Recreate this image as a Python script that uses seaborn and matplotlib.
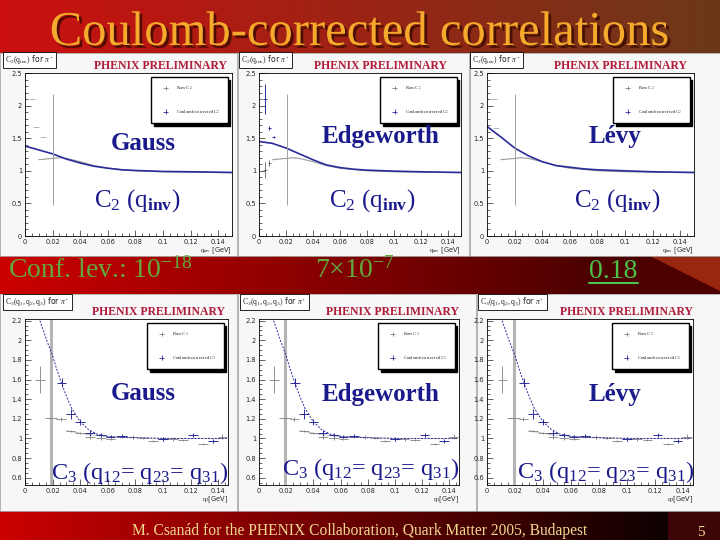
import numpy as np
import matplotlib
matplotlib.use("Agg")
import matplotlib.pyplot as plt
import matplotlib.patheffects as pe
from matplotlib.patches import Rectangle
from matplotlib.ticker import MultipleLocator, FuncFormatter
import seaborn as sns

# ---- top row: C2(q_inv) ----
fit_q = [0.0, 0.01, 0.02, 0.03, 0.04, 0.05, 0.06, 0.07, 0.08, 0.10, 0.12, 0.15]
gauss_c2_fit = [1.38, 1.32, 1.26, 1.18, 1.12, 1.07, 1.04, 1.015, 1.005, 0.99, 0.985, 0.975]
edge_c2_fit = [1.45, 1.42, 1.35, 1.26, 1.17, 1.09, 1.05, 1.025, 1.01, 0.995, 0.985, 0.975]
levy_c2_fit = [1.68, 1.52, 1.35, 1.23, 1.14, 1.08, 1.055, 1.03, 1.015, 1.0, 0.985, 0.975]

raw_c2_q = [0.010, 0.015, 0.020, 0.025, 0.030, 0.040, 0.050, 0.060, 0.080, 0.100, 0.150]
raw_c2 = [1.17, 1.18, 1.19, 1.20, 1.19, 1.14, 1.08, 1.04, 1.00, 0.985, 0.97]

# low-q points (differ per panel)
gauss_low_q = [0.005, 0.008, 0.013]
gauss_low_c = [2.10, 1.67, 1.52]
edge_corr_q = [0.0045, 0.0077, 0.011]
edge_corr_c = [2.10, 1.66, 1.52]
edge_corr_err = [0.23, 0.03, 0.02]
edge_raw_q = [0.0045, 0.0077]
edge_raw_c = [1.01, 1.12]
edge_raw_err = [0.12, 0.04]
levy_low_q = [0.005, 0.0065]
levy_low_c = [2.10, 1.66]

# the wide raw bin near 0.02
wide_c2_q = [0.0205]
wide_c2 = [1.33]
wide_c2_err = [0.85]

# ---- bottom row: C3(q12=q23=q31), same data in all three panels ----
c3_raw_q = [0.011, 0.026, 0.033, 0.040, 0.047, 0.055, 0.062, 0.070, 0.078, 0.0855,
            0.0928, 0.100, 0.107, 0.1145, 0.129, 0.143]
c3_raw = [1.60, 1.20, 1.075, 1.06, 1.01, 1.00, 0.99, 1.01, 1.018, 1.008,
          0.974, 0.995, 0.995, 0.984, 0.944, 1.02]
c3_raw_err = [0.14, 0.02, 0.01, 0.01, 0.015, 0.015, 0.01, 0.01, 0.02, 0.01,
              0.01, 0.02, 0.02, 0.01, 0.01, 0.03]
c3_corr_q = [0.0265, 0.033, 0.040, 0.047, 0.055, 0.062, 0.070, 0.100, 0.1217, 0.136]
c3_corr = [1.57, 1.25, 1.17, 1.06, 1.035, 1.02, 1.03, 0.995, 1.035, 0.975]
c3_corr_err = [0.05, 0.05, 0.03, 0.03, 0.02, 0.015, 0.02, 0.02, 0.02, 0.02]
c3_wide_q = [0.019]
c3_wide = [1.21]
c3_fit_q = [0.0108, 0.0157, 0.0198, 0.0229, 0.026, 0.030, 0.0337, 0.040, 0.046,
            0.052, 0.061, 0.078, 0.102, 0.146]
c3_fit = [2.20, 2.00, 1.85, 1.71, 1.58, 1.43, 1.31, 1.17, 1.09, 1.045, 1.018,
          1.008, 1.0, 1.0]
c3_raw_fit_q = [0.030, 0.045, 0.060, 0.080, 0.100, 0.146]
c3_raw_fit = [1.08, 1.04, 1.02, 1.01, 1.0, 1.0]

models = ["Gauss", "Edgeworth", "Lévy"]
conf_levels = ["Conf. lev.: 10$^{\\mathrm{-18}}$", "7×10$^{\\mathrm{-7}}$", "0.18"]

BLUE = "#2b2b9c"
GREY = "#808080"
NAVY = "#1a1a8c"
CRIMSON = "#b01c3c"

sns.set_style("ticks")
plt.rcParams["font.family"] = ["Liberation Serif", "DejaVu Serif"]
plt.rcParams["mathtext.fontset"] = "custom"
plt.rcParams["mathtext.rm"] = "Liberation Serif"
plt.rcParams["mathtext.it"] = "Liberation Serif:italic"
plt.rcParams["mathtext.bf"] = "Liberation Serif:bold"

fig = plt.figure(figsize=(7.2, 5.4), dpi=100)

# slide background
H, W = 540, 720
t = np.linspace(0, 1, W)[:, None]
bg = np.ones((H, W, 3)) * 0.97
title_row = (1 - t) * np.array([0.80, 0.06, 0.06]) + t * np.array([0.42, 0.22, 0.10])
bg[:53] = title_row[None]
mid = np.clip(t / 0.82, 0, 1)
mid_row = (1 - mid) * np.array([0.80, 0.0, 0.0]) + mid * np.array([0.30, 0.0, 0.0])
bg[256:294] = mid_row[None]
yy, xx = np.mgrid[256:294, 0:W]
wedge = xx > 650 + (yy - 256) * 2.0
bg[256:294][wedge] = [0.60, 0.15, 0.06]
foot = np.clip(t / 0.92, 0, 1)
foot_row = (1 - foot) * np.array([0.80, 0.0, 0.0]) + foot * np.array([0.06, 0.0, 0.0])
bg[511:] = foot_row[None]
bg[511:, 668:] = [0.24, 0.02, 0.03]

bgax = fig.add_axes([0, 0, 1, 1])
bgax.imshow(bg, extent=(0, W, H, 0), aspect="auto", interpolation="bilinear")
bgax.set_xlim(0, W)
bgax.set_ylim(H, 0)
bgax.axis("off")
for x0, x1 in [(0, 237), (238, 469), (470, 720)]:
    bgax.add_patch(Rectangle((x0, 53), x1 - x0, 203, fc="#f7f7f7", ec="#999999", lw=0.5))
for x0, x1 in [(0, 237), (238, 476), (477, 720)]:
    bgax.add_patch(Rectangle((x0, 294), x1 - x0, 217, fc="#f7f7f7", ec="#999999", lw=0.5))


def px_axes(l, tp, r, b):
    return fig.add_axes([l / W, 1 - b / H, (r - l) / W, (b - tp) / H])


fmt = FuncFormatter(lambda v, p: f"{v:g}")


def style_axes(ax, xmax, ylo, yhi, ymaj, ymin):
    ax.set_xlim(0, xmax)
    ax.set_ylim(ylo, yhi)
    ax.set_facecolor("white")
    ax.xaxis.set_major_locator(MultipleLocator(0.02))
    ax.xaxis.set_minor_locator(MultipleLocator(0.005))
    ax.yaxis.set_major_locator(MultipleLocator(ymaj))
    ax.yaxis.set_minor_locator(MultipleLocator(ymin))
    ax.xaxis.set_major_formatter(fmt)
    ax.yaxis.set_major_formatter(fmt)
    ax.tick_params(which="both", direction="in", labelsize=4.8, pad=2, width=0.5,
                   labelfontfamily="DejaVu Sans")
    ax.tick_params(which="major", length=4)
    ax.tick_params(which="minor", length=2)
    for s in ax.spines.values():
        s.set_linewidth(0.6)
        s.set_color("black")


def add_legend(ax, sub):
    # legend keys drawn as the ROOT-style error crosses
    h_raw = ax.errorbar([], [], yerr=[], xerr=[], fmt="none", ecolor=GREY, elinewidth=0.6)
    h_cor = ax.errorbar([], [], yerr=[], xerr=[], fmt="none", ecolor=BLUE, elinewidth=0.6)
    ax.legend([h_raw, h_cor], [f"Raw C$_{sub}$", f"Coulomb corrected C$_{sub}$"],
              loc="upper right", bbox_to_anchor=(0.99, 0.99), fontsize=3.4,
              frameon=True, fancybox=False, edgecolor="black", framealpha=1,
              shadow={"color": "black", "alpha": 1}, borderpad=1.6,
              labelspacing=3.4, handlelength=3, handletextpad=0.6)


top_px = [(25, 73, 232, 236), (259, 73, 461, 236), (487, 73, 694, 236)]
bot_px = [(25, 319, 228, 485), (259, 319, 459, 485), (487, 319, 693, 485)]
top_fits = [gauss_c2_fit, edge_c2_fit, levy_c2_fit]

for i, box in enumerate(top_px):
    ax = px_axes(*box)
    style_axes(ax, 0.15, 0, 2.5, 0.5, 0.1)
    sns.lineplot(x=raw_c2_q, y=raw_c2, ax=ax, color="#9a9a9a", lw=0.8, legend=False)
    sns.lineplot(x=fit_q, y=top_fits[i], ax=ax, color=BLUE, lw=1.2, legend=False)
    ax.errorbar(wide_c2_q, wide_c2, yerr=wide_c2_err, fmt="none",
                ecolor="#a0a0a0", elinewidth=0.7)
    if i == 0:
        ax.errorbar(gauss_low_q, gauss_low_c, xerr=0.002, fmt="none",
                    ecolor="#a8a8b8", elinewidth=0.6)
    elif i == 1:
        ax.errorbar(edge_raw_q, edge_raw_c, yerr=edge_raw_err, xerr=0.0012, fmt="none",
                    ecolor="#606060", elinewidth=0.6)
        ax.errorbar(edge_corr_q, edge_corr_c, yerr=edge_corr_err, xerr=0.0012,
                    fmt="none", ecolor=BLUE, elinewidth=0.7)
    else:
        ax.errorbar(levy_low_q, levy_low_c, xerr=0.002, fmt="none",
                    ecolor="#a8a8b8", elinewidth=0.6)
    add_legend(ax, "2")
    ax.set_xlabel(r"$\mathrm{q}_{\mathrm{inv}}$ [GeV]", fontsize=4.8, loc="right",
                  labelpad=0.5, fontfamily="DejaVu Sans")

for i, box in enumerate(bot_px):
    ax = px_axes(*box)
    style_axes(ax, 0.147, 0.526, 2.217, 0.2, 0.05)
    ax.errorbar(c3_wide_q, [1.5], yerr=[1.2], fmt="none", ecolor="#b4b4b4", elinewidth=2.2)
    ax.errorbar(c3_wide_q, c3_wide, xerr=0.0045, fmt="none", ecolor=GREY, elinewidth=0.6)
    sns.lineplot(x=c3_raw_fit_q, y=c3_raw_fit, ax=ax, color="#b8b8b8", lw=0.6, legend=False)
    ax.errorbar(c3_raw_q, c3_raw, yerr=c3_raw_err, xerr=0.0035, fmt="none",
                ecolor=GREY, elinewidth=0.6)
    ax.errorbar(c3_corr_q, c3_corr, yerr=c3_corr_err, xerr=0.0035, fmt="none",
                ecolor=BLUE, elinewidth=0.7)
    sns.lineplot(x=c3_fit_q, y=c3_fit, ax=ax, color=BLUE, lw=0.7, legend=False,
                 linestyle=(0, (2, 1.5)))
    add_legend(ax, "3")
    ax.set_xlabel(r"$\mathrm{q}_3$[GeV]", fontsize=4.8, loc="right", labelpad=0.5,
                  fontfamily="DejaVu Sans")

# overlay for all slide text, in pixel coordinates
ov = fig.add_axes([0, 0, 1, 1], zorder=10)
ov.set_xlim(0, W)
ov.set_ylim(H, 0)
ov.axis("off")
ov.patch.set_alpha(0)

ov.text(360, 45, "Coulomb-corrected correlations", ha="center", va="baseline",
        fontsize=35, color="#f5aa2c",
        path_effects=[pe.withSimplePatchShadow(offset=(2, -2), shadow_rgbFace="#3a0a00",
                                               alpha=0.8)])

for x in [160, 380, 620]:
    ov.text(x, 69, "PHENIX PRELIMINARY", ha="center", va="baseline", fontsize=8.5,
            fontweight="bold", color=CRIMSON)
for x in [158, 392, 627]:
    ov.text(x, 315, "PHENIX PRELIMINARY", ha="center", va="baseline", fontsize=8.5,
            fontweight="bold", color=CRIMSON)

box_kw = dict(boxstyle="square,pad=0.25", fc="white", ec="black", lw=0.6)
for x in [5, 241, 472]:
    ov.text(x, 60, r"$\mathrm{C}_2(\mathrm{q}_{\mathrm{inv}})$ for $\pi^{+}$", ha="left",
            va="center", fontsize=5.6, fontfamily="DejaVu Sans", bbox=box_kw)
for x in [5, 242, 480]:
    ov.text(x, 302, r"$\mathrm{C}_3(\mathrm{q}_1, \mathrm{q}_2, \mathrm{q}_3)$ for $\pi^{+}$",
            ha="left", va="center", fontsize=5.6, fontfamily="DejaVu Sans", bbox=box_kw)

for x, y, name in zip([143, 381, 615], [150, 143, 143], models):
    ov.text(x, y, name, ha="center", va="baseline", fontsize=18, fontweight="bold",
            color=NAVY)
for x, y, name in zip([143, 381, 615], [400, 401, 401], models):
    ov.text(x, y, name, ha="center", va="baseline", fontsize=18, fontweight="bold",
            color=NAVY)
c2_label = r"$\mathrm{C}_2\ (\mathrm{q}_{\mathbf{inv}})$"
for x in [137, 372, 617]:
    ov.text(x, 207, c2_label, ha="center", va="baseline", fontsize=18, color=NAVY)
c3_label = r"$\mathrm{C}_3\ (\mathrm{q}_{12}$= $\mathrm{q}_{23}$= $\mathrm{q}_{31})$"
for x, y in zip([140, 371, 606], [479, 475, 478]):
    ov.text(x, y, c3_label, ha="center", va="baseline", fontsize=17.5, color=NAVY)

ov.text(8, 278, conf_levels[0], ha="left", va="baseline", fontsize=20, color="#62a83e")
ov.text(355, 278, conf_levels[1], ha="center", va="baseline", fontsize=20, color="#62a83e")
ov.text(613, 278, conf_levels[2], ha="center", va="baseline", fontsize=20, color="#4cc24a")
ov.plot([589, 638], [283, 283], color="#4cc24a", lw=1.5)

ov.text(360, 535, "M. Csanád for the PHENIX Collaboration, Quark Matter 2005, Budapest",
        ha="center", va="baseline", fontsize=11.2, color="#f0d890")
ov.text(701, 536, "5", ha="center", va="baseline", fontsize=11, color="#f0d890")

fig.savefig("out.png", dpi=100)
